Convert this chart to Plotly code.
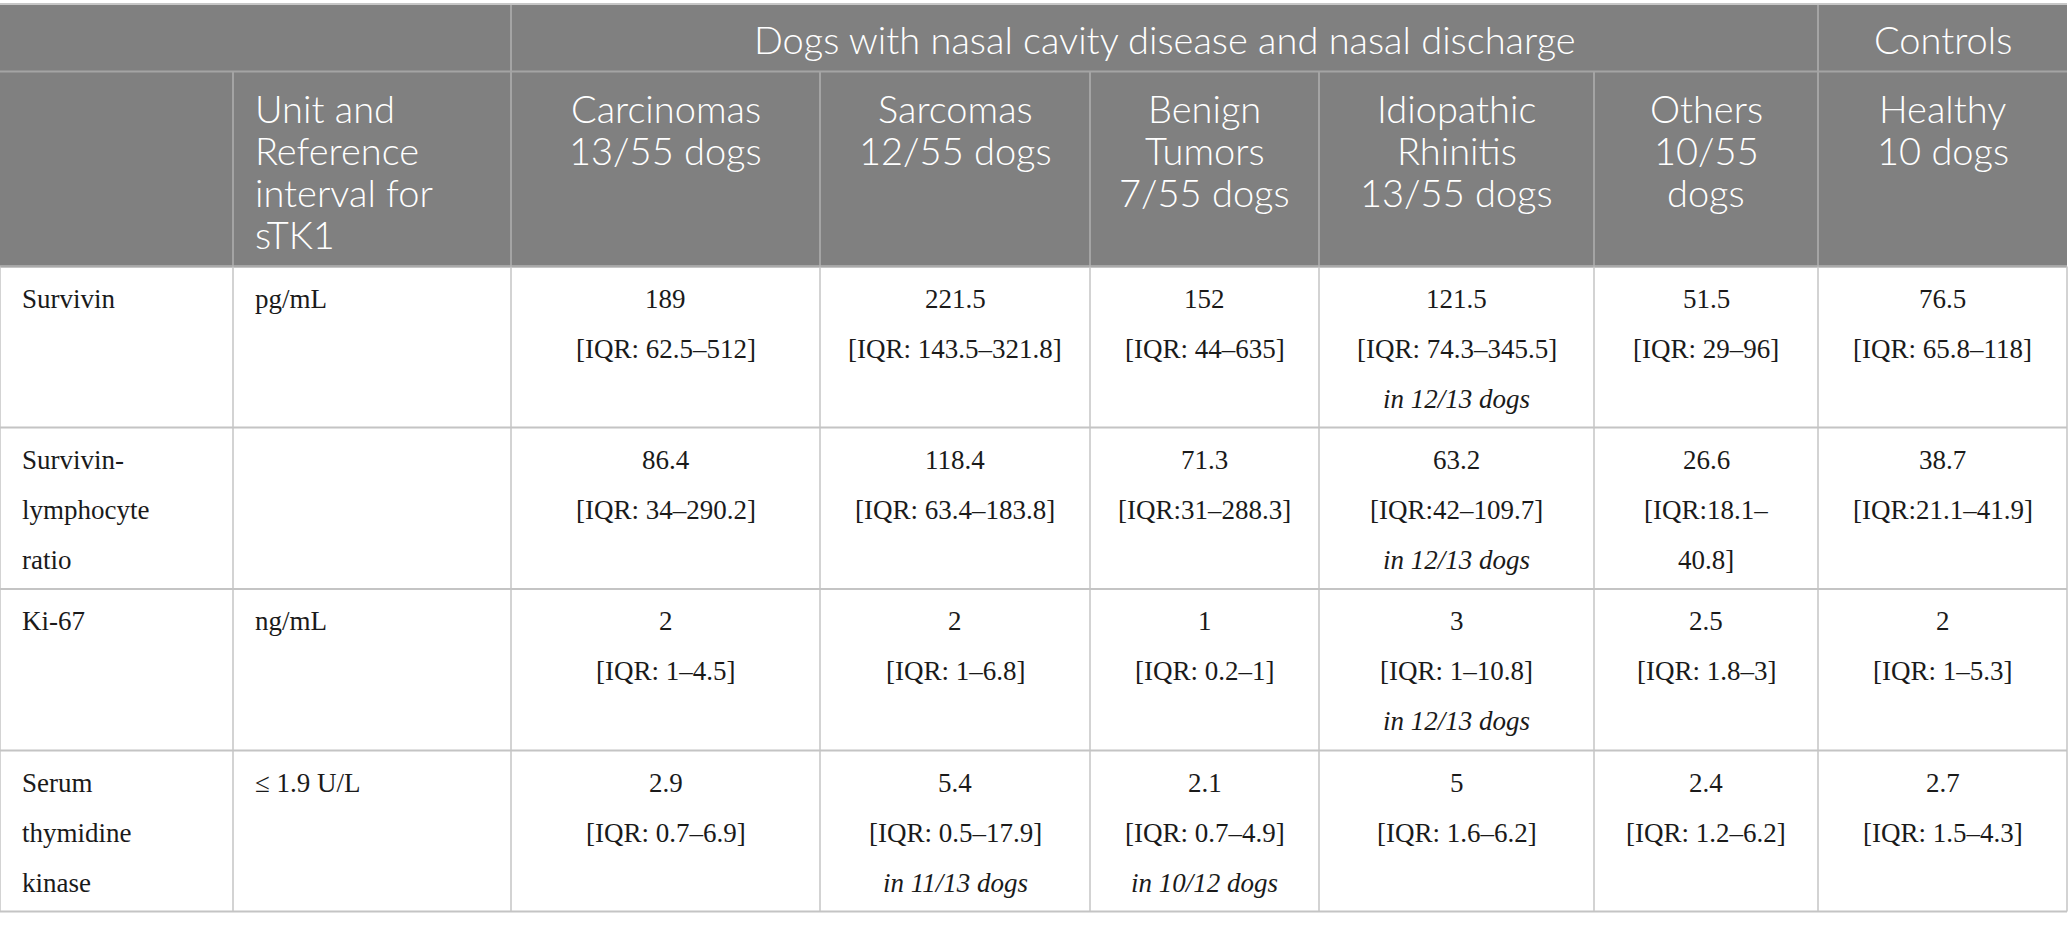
import plotly.graph_objects as go

# ---- table content ---------------------------------------------------------
group_titles = ["Dogs with nasal cavity disease and nasal discharge", "Controls"]
group_spans = [(2, 7), (7, 8)]  # column index ranges covered by each group

column_headers = [
    [],
    ["Unit and", "Reference", "interval for", "sTK1"],
    ["Carcinomas", "13/55 dogs"],
    ["Sarcomas", "12/55 dogs"],
    ["Benign", "Tumors", "7/55 dogs"],
    ["Idiopathic", "Rhinitis", "13/55 dogs"],
    ["Others", "10/55", "dogs"],
    ["Healthy", "10 dogs"],
]

markers = [
    ["Survivin"],
    ["Survivin-", "lymphocyte", "ratio"],
    ["Ki-67"],
    ["Serum", "thymidine", "kinase"],
]
units = ["pg/mL", "", "ng/mL", "≤ 1.9 U/L"]

medians = [
    ["189", "221.5", "152", "121.5", "51.5", "76.5"],
    ["86.4", "118.4", "71.3", "63.2", "26.6", "38.7"],
    ["2", "2", "1", "3", "2.5", "2"],
    ["2.9", "5.4", "2.1", "5", "2.4", "2.7"],
]
iqrs = [
    [["[IQR: 62.5–512]"], ["[IQR: 143.5–321.8]"], ["[IQR: 44–635]"],
     ["[IQR: 74.3–345.5]"], ["[IQR: 29–96]"], ["[IQR: 65.8–118]"]],
    [["[IQR: 34–290.2]"], ["[IQR: 63.4–183.8]"], ["[IQR:31–288.3]"],
     ["[IQR:42–109.7]"], ["[IQR:18.1–", "40.8]"], ["[IQR:21.1–41.9]"]],
    [["[IQR: 1–4.5]"], ["[IQR: 1–6.8]"], ["[IQR: 0.2–1]"],
     ["[IQR: 1–10.8]"], ["[IQR: 1.8–3]"], ["[IQR: 1–5.3]"]],
    [["[IQR: 0.7–6.9]"], ["[IQR: 0.5–17.9]"], ["[IQR: 0.7–4.9]"],
     ["[IQR: 1.6–6.2]"], ["[IQR: 1.2–6.2]"], ["[IQR: 1.5–4.3]"]],
]
notes = [
    ["", "", "", "in 12/13 dogs", "", ""],
    ["", "", "", "in 12/13 dogs", "", ""],
    ["", "", "", "in 12/13 dogs", "", ""],
    ["", "in 11/13 dogs", "in 10/12 dogs", "", "", ""],
]

# ---- geometry / style ------------------------------------------------------
W, H = 2068, 930
COL_EDGES = [0, 233, 511, 820, 1090, 1319, 1594, 1818, 2067]
HEAD_TOP, HEAD_MID, HEAD_BOT = 5, 71.5, 266.5
ROW_EDGES = [266.5, 427.5, 589, 750.5, 911.5]

COLOR_HEAD = "#808080"
COLOR_HEAD_LINE = "#a4a4a4"
COLOR_GRID = "#c4c4c4"
COLOR_TEXT = "#1a1a1a"
HEAD_FONT = dict(family="Lato, Open Sans, sans-serif", size=38, weight=300, color="#ffffff")
BODY_FONT = dict(family="Liberation Serif, DejaVu Serif, serif", size=27, color=COLOR_TEXT)

fig = go.Figure()
shapes = []
annotations = []


def line(x0, y0, x1, y1, color, width):
    shapes.append(dict(type="line", xref="x", yref="y", x0=x0, y0=y0, x1=x1, y1=y1,
                       line=dict(color=color, width=width), layer="above"))


def text(x, y, s, font, anchor="center"):
    annotations.append(dict(x=x, y=y, xref="x", yref="y", text=s, showarrow=False,
                            xanchor=anchor, yanchor="middle", font=font))


# header background
shapes.append(dict(type="rect", xref="x", yref="y", x0=COL_EDGES[0], x1=COL_EDGES[-1],
                   y0=HEAD_TOP, y1=HEAD_BOT, fillcolor=COLOR_HEAD, line=dict(width=0),
                   layer="below"))
line(COL_EDGES[0], HEAD_TOP - 1, COL_EDGES[-1], HEAD_TOP - 1, "#b4b4b4", 1.5)
line(COL_EDGES[0], HEAD_MID, COL_EDGES[-1], HEAD_MID, COLOR_HEAD_LINE, 2)

# group row
for title, (c0, c1) in zip(group_titles, group_spans):
    line(COL_EDGES[c0], HEAD_TOP, COL_EDGES[c0], HEAD_MID, COLOR_HEAD_LINE, 2)
    text((COL_EDGES[c0] + COL_EDGES[c1]) / 2, 39, title, HEAD_FONT)

# column header row
for ci, lines in enumerate(column_headers):
    if ci > 0:
        line(COL_EDGES[ci], HEAD_MID, COL_EDGES[ci], HEAD_BOT, COLOR_HEAD_LINE, 2)
    for li, s in enumerate(lines):
        y = 108 + li * 42
        if ci == 1:
            text(COL_EDGES[ci] + 20, y, s, HEAD_FONT, "left")
        else:
            text((COL_EDGES[ci] + COL_EDGES[ci + 1]) / 2, y, s, HEAD_FONT)

# body grid
for y in ROW_EDGES:
    line(COL_EDGES[0], y, COL_EDGES[-1], y, COLOR_GRID, 2)
line(COL_EDGES[0], HEAD_BOT, COL_EDGES[-1], HEAD_BOT, "#a9a9a9", 2)
for x in COL_EDGES:
    line(x, ROW_EDGES[0], x, ROW_EDGES[-1], COLOR_GRID, 1.5)

# body text
for ri in range(len(markers)):
    top = ROW_EDGES[ri]
    for li, s in enumerate(markers[ri]):
        text(COL_EDGES[0] + 20, top + 32 + li * 50, s, BODY_FONT, "left")
    text(COL_EDGES[1] + 20, top + 32, units[ri], BODY_FONT, "left")
    for gi in range(len(medians[ri])):
        cell = [medians[ri][gi]] + iqrs[ri][gi]
        if notes[ri][gi]:
            cell.append("<i>" + notes[ri][gi] + "</i>")
        cx = (COL_EDGES[gi + 2] + COL_EDGES[gi + 3]) / 2
        for li, s in enumerate(cell):
            text(cx, top + 32 + li * 50, s, BODY_FONT)

fig.update_xaxes(range=[0, W], visible=False, fixedrange=True)
fig.update_yaxes(range=[H, 0], visible=False, fixedrange=True)
fig.update_layout(width=W, height=H, margin=dict(l=0, r=0, t=0, b=0, pad=0),
                  paper_bgcolor="white", plot_bgcolor="white", showlegend=False,
                  shapes=shapes, annotations=annotations)

# page body has a default 8px margin, drop it so the table sits at the window edge
fig.write_html("out.html", config={"displayModeBar": False},
               post_script="document.body.style.margin = '0';")
